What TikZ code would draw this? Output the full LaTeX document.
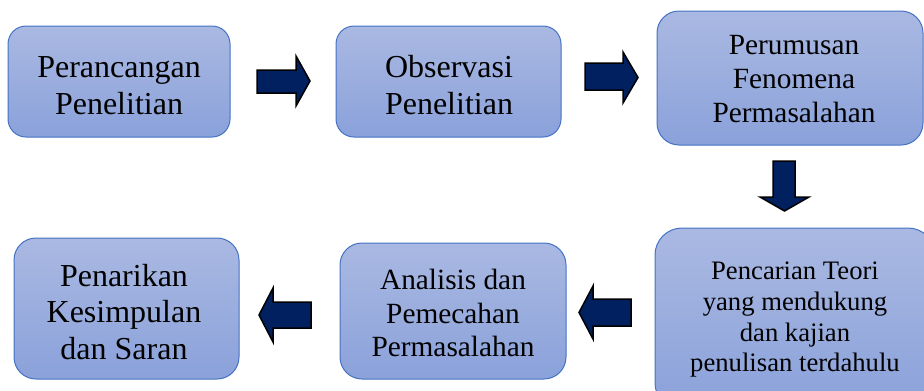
\documentclass[tikz,border=0pt]{standalone}
\usepackage{fontspec}
\setmainfont{Liberation Serif}
\newlength{\du}
\setlength{\du}{0.75pt}
\definecolor{boxtopcolor}{RGB}{170,185,226}
\definecolor{boxbottomcolor}{RGB}{138,161,218}
\definecolor{boxlinecolor}{RGB}{68,114,196}
\definecolor{arrowcolor}{RGB}{0,32,96}
\tikzset{
  stagebox/.style={draw=boxlinecolor, line width=1\du, top color=boxtopcolor,
    bottom color=boxbottomcolor, inner sep=0pt},
  stagetext/.style={align=center, inner sep=0pt, text=black},
  blockarrow/.style={fill=arrowcolor, draw=black, line width=1.5\du, line join=miter},
}
\begin{document}
\begin{tikzpicture}
\pgftransformxscale{1.000000}
\pgftransformyscale{-1.000000}
\useasboundingbox (0\du,0\du) rectangle (924\du,390\du);
\clip (0\du,0\du) rectangle (924\du,390\du);
% boxes
\node[stagebox, rounded corners=18\du, minimum width=222\du, minimum height=111\du] (rancang) at (119\du,81.5\du) {};
\node[stagebox, rounded corners=18\du, minimum width=225\du, minimum height=111\du] (observasi) at (448.5\du,81.5\du) {};
\node[stagebox, rounded corners=22\du, minimum width=266\du, minimum height=134\du] (rumusan) at (790\du,78\du) {};
\node[stagebox, rounded corners=27\du, minimum width=280\du, minimum height=182\du] (teori) at (795\du,319\du) {};
\node[stagebox, rounded corners=22\du, minimum width=226\du, minimum height=136\du] (analisis) at (453\du,311\du) {};
\node[stagebox, rounded corners=22\du, minimum width=225\du, minimum height=141\du] (simpulan) at (126.5\du,308.5\du) {};
% setfont left to latex
\node[stagetext, font=\fontsize{24}{27.6}\selectfont] (rancang-txt) at (119\du,85.5\du) {Perancangan\\Penelitian};
\node[stagetext, font=\fontsize{24}{27.6}\selectfont] (observasi-txt) at (449\du,85\du) {Observasi\\Penelitian};
\node[stagetext, font=\fontsize{22}{25.3}\selectfont] (rumusan-txt) at (794\du,79\du) {Perumusan\\Fenomena\\Permasalahan};
\node[stagetext, font=\fontsize{20}{23}\selectfont] (teori-txt) at (795\du,320\du) {Pencarian Teori\\yang mendukung\\dan kajian\\penulisan terdahulu};
\node[stagetext, font=\fontsize{22}{25.3}\selectfont] (analisis-txt) at (453\du,313\du) {Analisis dan\\Pemecahan\\Permasalahan};
\node[stagetext, font=\fontsize{24}{27.6}\selectfont] (simpulan-txt) at (124\du,312\du) {Penarikan\\Kesimpulan\\dan Saran};
% block arrows
\filldraw[blockarrow] (257\du,70\du)--(296\du,70\du)--(296\du,56\du)--(310\du,81\du)--(296\du,106\du)--(296\du,93\du)--(257\du,93\du)--cycle;
\filldraw[blockarrow] (585\du,63\du)--(623\du,63\du)--(623\du,52\du)--(638\du,77.5\du)--(623\du,103\du)--(623\du,90\du)--(585\du,90\du)--cycle;
\filldraw[blockarrow] (773\du,161\du)--(773\du,197\du)--(760\du,197\du)--(784.5\du,211\du)--(809\du,197\du)--(795\du,197\du)--(795\du,161\du)--cycle;
\filldraw[blockarrow] (631\du,299\du)--(593\du,299\du)--(593\du,286\du)--(579\du,312.5\du)--(593\du,339\du)--(593\du,326\du)--(631\du,326\du)--cycle;
\filldraw[blockarrow] (311\du,302\du)--(273\du,302\du)--(273\du,288\du)--(259\du,315\du)--(273\du,342\du)--(273\du,328\du)--(311\du,328\du)--cycle;
\end{tikzpicture}
\end{document}
